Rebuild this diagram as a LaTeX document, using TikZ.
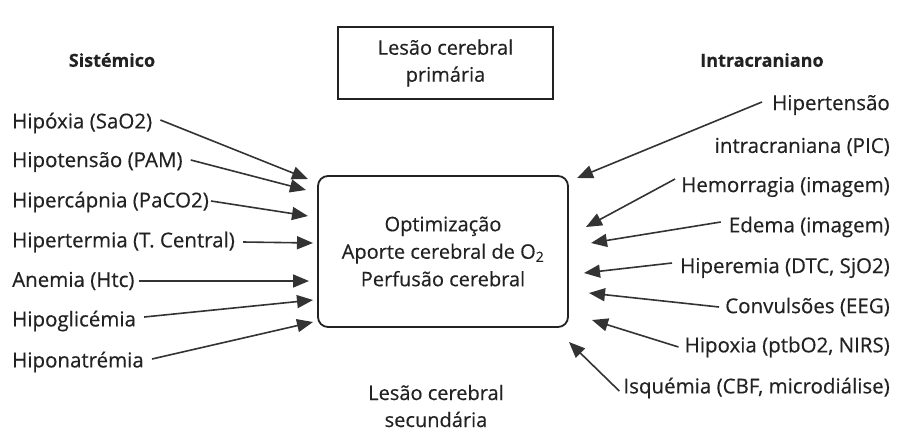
\documentclass[tikz,border=0pt]{standalone}
\usepackage{fontspec}
\setmainfont{Open Sans}[FakeBold=0.4]
\usetikzlibrary{arrows.meta}
\definecolor{ink}{HTML}{222222}
\definecolor{arr}{HTML}{333333}
\begin{document}
\begin{tikzpicture}[x=1pt,y=-1pt,
  lbl/.style={font=\fontsize{20.5}{22}\selectfont, text=ink, inner sep=2pt},
  head/.style={font=\fontsize{18}{20}\selectfont\bfseries, text=ink},
  arrowline/.style={draw=arr, line width=1.6pt, -{Triangle[length=16pt,width=13pt]}},
  mainbox/.style={draw=ink, line width=1.8pt, rounded corners=10pt, minimum width=250pt, minimum height=151pt, align=center, font=\fontsize{20}{27.5}\selectfont, text=ink},
  topbox/.style={draw=ink, line width=1.8pt, minimum width=215pt, minimum height=72pt, align=center, font=\fontsize{20}{27}\selectfont, text=ink}]
\useasboundingbox (0,0) rectangle (898,432);
\fill[white] (0,0) rectangle (898,432);

% headings
\node[head] (hs) at (112,60) {Sistémico};
\node[head] (hi) at (762,60) {Intracraniano};

% boxes
\node[topbox] (prim) at (445.5,63) {Lesão cerebral\\primária};
\node[mainbox] (main) at (443,251.5) {Optimização\\Aporte cerebral de O\textsubscript{2}\\Perfusão cerebral};
\node[align=center, font=\fontsize{20}{27}\selectfont, text=ink] (sec) at (436,406) {Lesão cerebral\\secundária};

% left labels
\node[lbl, anchor=west] (l1) at (10,123) {Hipóxia (SaO2)};
\node[lbl, anchor=west] (l2) at (10,162) {Hipotensão (PAM)};
\node[lbl, anchor=west] (l3) at (10,202) {Hipercápnia (PaCO2)};
\node[lbl, anchor=west] (l4) at (10,242) {Hipertermia (T. Central)};
\node[lbl, anchor=west] (l5) at (10,281) {Anemia (Htc)};
\node[lbl, anchor=west] (l6) at (10,321) {Hipoglicémia};
\node[lbl, anchor=west] (l7) at (10,362) {Hiponatrémia};

\coordinate (e1) at (308,179);
\coordinate (e2) at (306,190);
\coordinate (e3) at (308,216);
\coordinate (e4) at (313,243);
\coordinate (e5) at (309,281);
\coordinate (e6) at (313,300);
\coordinate (e7) at (313,322);

\draw[arrowline] ([xshift=6pt,yshift=3pt]l1.east) -- (e1);
\draw[arrowline] ([xshift=6pt,yshift=2pt]l2.east) -- (e2);
\draw[arrowline] ([yshift=1pt]l3.east) -- (e3);
\draw[arrowline] ([xshift=6pt]l4.east) -- (e4);
\draw[arrowline] ([xshift=2pt]l5.east) -- (e5);
\draw[arrowline] ([xshift=6pt,yshift=4pt]l6.east) -- (e6);
\draw[arrowline] ([xshift=6pt,yshift=3pt]l7.east) -- (e7);

% right labels
\node[lbl, anchor=east] (r1a) at (892,105) {Hipertensão};
\node[lbl, anchor=east] (r1b) at (892,147) {intracraniana (PIC)};
\node[lbl, anchor=east] (r2) at (892,187) {Hemorragia (imagem)};
\node[lbl, anchor=east] (r3) at (892,227) {Edema (imagem)};
\node[lbl, anchor=east] (r4) at (892,268) {Hiperemia (DTC, SjO2)};
\node[lbl, anchor=east] (r5) at (892,307) {Convulsões (EEG)};
\node[lbl, anchor=east] (r6) at (892,347) {Hipoxia (ptbO2, NIRS)};
\node[lbl, anchor=east] (r7) at (892,388) {Isquémia (CBF, microdiálise)};

\coordinate (f1) at (577,178);
\coordinate (f2) at (586,227);
\coordinate (f3) at (591,243);
\coordinate (f4) at (584,273);
\coordinate (f5) at (589,293);
\coordinate (f6) at (592,320);
\coordinate (f7) at (569,342);

\draw[arrowline] ([xshift=-8pt,yshift=3pt]r1a.west) -- (f1);
\draw[arrowline] ([xshift=-4pt,yshift=8pt]r2.west) -- (f2);
\draw[arrowline] ([xshift=-6pt,yshift=5pt]r3.west) -- (f3);
\draw[arrowline] ([xshift=-6pt,yshift=5pt]r4.west) -- (f4);
\draw[arrowline] ([xshift=-4pt]r5.west) -- (f5);
\draw[arrowline] ([xshift=-4pt]r6.west) -- (f6);
\draw[arrowline] ([xshift=-2pt,yshift=-3pt]r7.west) -- (f7);
\end{tikzpicture}
\end{document}
